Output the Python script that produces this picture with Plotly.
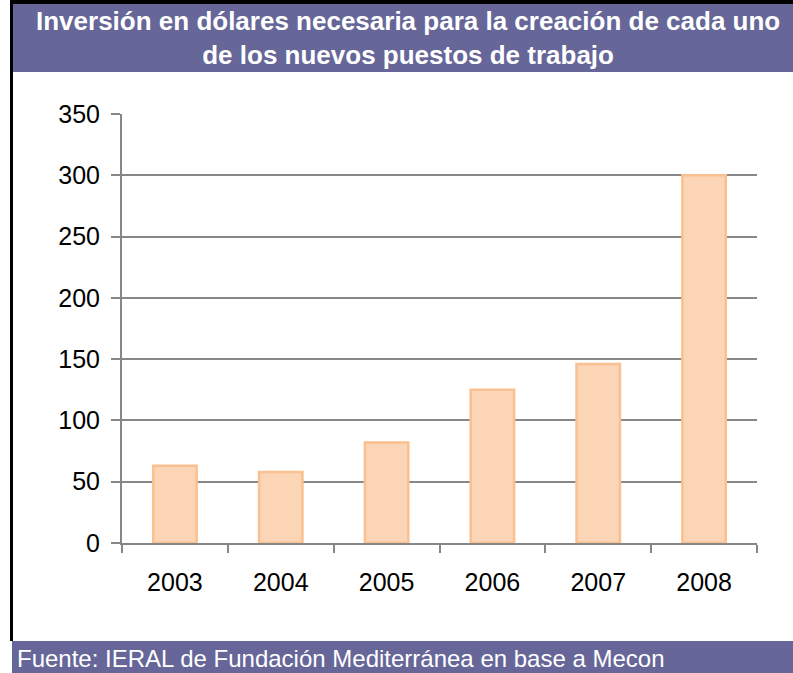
import plotly.graph_objects as go

W, H = 793, 673

years = ["2003", "2004", "2005", "2006", "2007", "2008"]
values = [63, 58, 82, 125, 146, 300]
y_ticks = [0, 50, 100, 150, 200, 250, 300, 350]

title_text = ("<b>Inversión en dólares necesaria para la creación de cada uno</b><br>"
              "<b>de los nuevos puestos de trabajo</b>")
source_text = "Fuente: IERAL de Fundación Mediterránea en base a Mecon"

PURPLE = "#666699"
GRID = "#878787"
FONT = "Liberation Sans, Arial, sans-serif"


def px(x):
    return x / W


def py(y):
    return 1 - y / H


fig = go.Figure()
fig.add_trace(go.Bar(
    x=years, y=values,
    marker=dict(color="#FBD5B5", line=dict(color="#FAC090", width=2.5)),
    width=0.41,
))

fig.update_layout(
    width=W, height=H,
    margin=dict(l=0, r=0, t=0, b=0),
    paper_bgcolor="white", plot_bgcolor="white",
    showlegend=False,
    font=dict(family=FONT, color="black"),
    xaxis=dict(
        domain=[px(122), px(757)],
        type="category",
        range=[-0.5, 5.5],
        showgrid=False,
        showline=True, linecolor=GRID, linewidth=2,
        ticks="outside", tickson="boundaries", ticklen=8, tickwidth=2, tickcolor=GRID,
        tickfont=dict(size=25, color="black"),
        ticklabelstandoff=16,
        automargin=False,
        fixedrange=True,
    ),
    yaxis=dict(
        domain=[py(543), py(114)],
        range=[0, 350],
        tickvals=y_ticks,
        showgrid=True, gridcolor=GRID, gridwidth=2,
        showline=True, linecolor=GRID, linewidth=2,
        ticks="outside", ticklen=9, tickwidth=2, tickcolor=GRID,
        tickfont=dict(size=25, color="black"),
        ticklabelstandoff=6,
        zeroline=False,
        automargin=False,
        fixedrange=True,
    ),
    shapes=[
        # title banner
        dict(type="rect", xref="paper", yref="paper",
             x0=px(13), x1=1, y0=py(72), y1=py(4),
             fillcolor=PURPLE, line=dict(width=0), layer="below"),
        # footer banner
        dict(type="rect", xref="paper", yref="paper",
             x0=px(12), x1=1, y0=0, y1=py(641),
             fillcolor=PURPLE, line=dict(width=0), layer="below"),
        # black frame top
        dict(type="rect", xref="paper", yref="paper",
             x0=px(10), x1=1, y0=py(4), y1=1,
             fillcolor="black", line=dict(width=0), layer="above"),
        # black frame left
        dict(type="rect", xref="paper", yref="paper",
             x0=px(10), x1=px(13), y0=py(641), y1=1,
             fillcolor="black", line=dict(width=0), layer="above"),
    ],
    annotations=[
        dict(text=title_text, xref="paper", yref="paper",
             x=px(408), y=py(38), xanchor="center", yanchor="middle",
             showarrow=False, align="center",
             font=dict(size=26, color="white", family=FONT)),
        dict(text=source_text, xref="paper", yref="paper",
             x=px(15), y=py(658), xanchor="left", yanchor="middle",
             showarrow=False, align="left",
             font=dict(size=24, color="white", family=FONT)),
    ],
)

fig.write_html(
    "out.html",
    config={"displayModeBar": False},
    post_script="document.body.style.margin='0';document.body.style.overflow='hidden';",
)
